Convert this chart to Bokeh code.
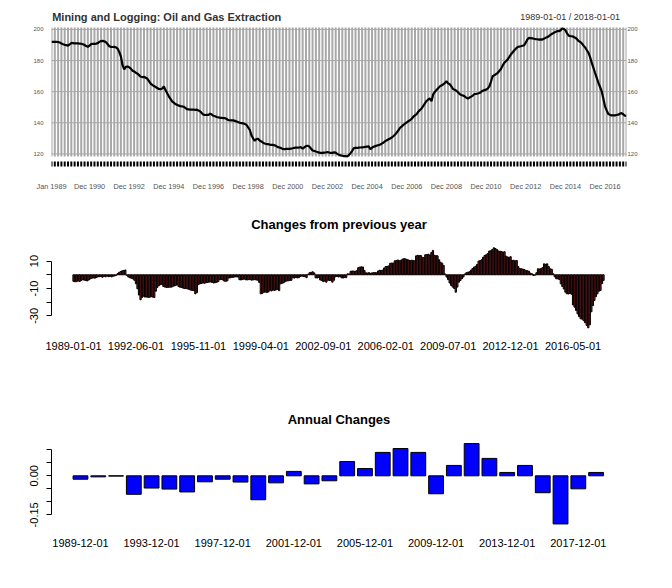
import math
from bokeh.plotting import figure
from bokeh.layouts import column
from bokeh.models import Range1d, FixedTicker, LinearAxis
from bokeh.core.properties import value
from bokeh.embed import file_html
from bokeh.resources import INLINE

FONT = "Liberation Sans"

# ---------------- data ----------------
# monthly index level, Jan 1989 .. Jan 2018
level = [
    192.0, 192.1, 192.0, 192.0, 191.9, 191.6, 191.0, 190.5, 190.1, 189.9, 189.6, 190.4,  # 1989
    191.3, 191.2, 191.0, 191.1, 191.0, 190.9, 190.8, 190.5, 190.0, 189.3, 188.8, 189.6,  # 1990
    190.6, 190.8, 190.7, 190.9, 191.2, 192.0, 192.5, 192.6, 192.4, 191.8, 190.5, 189.2,  # 1991
    188.8, 188.7, 188.8, 188.5, 187.7, 185.5, 182.6, 177.0, 174.3, 175.9, 176.2, 175.7,  # 1992
    174.8, 173.5, 173.0, 172.2, 171.6, 170.6, 169.6, 169.4, 169.5, 168.9, 168.3, 166.8,  # 1993
    165.2, 164.4, 163.6, 163.0, 162.3, 161.7, 161.6, 162.0, 163.4, 161.0, 159.0, 157.0,  # 1994
    155.4, 153.8, 152.9, 152.0, 151.6, 151.0, 150.7, 150.5, 150.3, 149.6, 148.8, 148.6,  # 1995
    148.4, 148.4, 148.5, 148.3, 148.4, 147.9, 147.3, 146.2, 145.2, 145.0, 145.1, 145.0,  # 1996
    145.8, 145.3, 144.5, 144.2, 143.7, 143.5, 143.2, 143.1, 143.0, 143.0, 142.4, 141.7,  # 1997
    141.6, 141.5, 141.5, 141.2, 140.8, 140.4, 140.0, 139.8, 139.6, 139.2, 138.7, 137.0,  # 1998
    135.5, 132.0, 130.0, 128.4, 129.5, 129.7, 128.6, 128.0, 127.2, 126.7, 126.3, 126.3,  # 1999
    126.0, 125.8, 125.8, 125.5, 125.0, 124.3, 124.1, 123.7, 123.2, 123.0, 123.2, 123.3,  # 2000
    123.2, 123.4, 123.6, 123.9, 124.1, 124.0, 124.1, 124.3, 123.3, 124.2, 125.0, 125.2,  # 2001
    124.7, 123.5, 122.2, 121.9, 121.5, 121.2, 120.8, 120.7, 120.6, 120.8, 120.9, 121.2,  # 2002
    120.9, 120.6, 120.7, 121.0, 120.8, 119.9, 119.4, 119.0, 118.8, 118.6, 118.5, 118.4,  # 2003
    119.2, 120.5, 122.0, 123.7, 123.8, 123.8, 124.0, 124.1, 124.2, 124.3, 124.5, 124.7,  # 2004
    124.8, 123.0, 124.0, 124.6, 125.0, 125.4, 125.6, 126.0, 126.7, 127.3, 128.2, 128.8,  # 2005
    129.4, 129.9, 130.6, 131.5, 132.5, 133.8, 135.2, 136.8, 137.7, 138.6, 139.4, 140.2,  # 2006
    141.0, 141.7, 142.6, 143.9, 144.8, 145.6, 147.1, 148.2, 149.2, 150.8, 152.5, 154.0,  # 2007
    155.0, 155.6, 153.9, 158.3, 159.8, 161.0, 162.2, 163.4, 164.0, 164.6, 165.5, 166.7,  # 2008
    165.3, 164.9, 163.4, 161.7, 161.2, 160.6, 159.6, 158.5, 157.9, 157.5, 157.0, 156.2,  # 2009
    155.5, 156.2, 156.8, 157.5, 158.5, 158.6, 158.8, 159.1, 159.8, 160.6, 161.0, 161.3,  # 2010
    162.0, 163.4, 166.5, 169.9, 170.5, 171.3, 172.0, 173.3, 174.6, 176.6, 178.5, 179.5,  # 2011
    180.6, 182.2, 183.9, 185.2, 186.5, 187.6, 188.6, 189.0, 189.2, 189.5, 189.7, 191.5,  # 2012
    193.5, 194.6, 194.4, 194.2, 194.0, 193.8, 193.7, 193.5, 193.6, 193.5, 194.0, 194.6,  # 2013
    195.0, 195.7, 196.5, 197.2, 197.8, 198.3, 198.9, 198.9, 199.3, 200.6, 200.3, 199.5,  # 2014
    197.5, 196.0, 195.7, 195.6, 195.2, 194.7, 193.8, 192.6, 192.0, 191.0, 189.6, 188.4,  # 2015
    186.6, 184.9, 182.0, 178.5, 175.3, 172.0, 168.8, 165.6, 163.0, 160.2, 155.5, 150.5,  # 2016
    148.0, 145.6, 145.1, 144.7, 144.7, 144.8, 145.0, 145.2, 145.8, 146.2, 145.5, 144.5,  # 2017
    144.5,                                                                                # 2018
]

# change from previous year, monthly
yoy = [
    -4.8, -5.1, -5.0, -4.6, -4.9, -4.2, -3.6, -3.9, -4.1, -4.5, -3.8, -3.0,  # 1989
    -2.6, -2.2, -2.5, -2.0, -1.6, -1.4, -1.3, -1.8, -1.2, -1.5, -1.0, -1.4,  # 1990
    -1.2, -1.5, -1.1, -0.8, -0.4, 0.9, 1.8, 2.4, 2.9, 3.2, 3.5, -0.4,        # 1991
    -1.6, -2.2, -2.5, -3.0, -4.0, -6.6, -10.2, -14.8, -18.2, -16.5, -15.6, -16.3,  # 1992
    -16.2, -16.5, -16.4, -16.0, -16.3, -16.6, -12.0, -9.2, -8.0, -7.2, -7.0, -8.5,  # 1993
    -9.0, -9.2, -9.3, -9.0, -9.1, -8.7, -8.2, -7.9, -7.4, -8.6, -9.1, -9.2,  # 1994
    -9.8, -10.0, -10.1, -10.3, -10.8, -11.2, -11.4, -11.6, -13.9, -13.0, -7.2, -6.6,  # 1995
    -6.4, -6.0, -6.2, -5.8, -5.6, -5.4, -5.2, -5.6, -6.0, -5.8, -5.5, -5.0,  # 1996
    -3.6, -3.4, -3.8, -4.6, -4.8, -4.4, -2.4, -2.2, -2.0, -1.8, -1.6, -1.5,  # 1997
    -1.7, -3.6, -3.8, -3.4, -3.2, -3.6, -3.8, -3.5, -3.6, -3.9, -3.7, -3.6,  # 1998
    -3.8, -4.0, -5.6, -13.9, -13.5, -12.8, -12.6, -13.0, -12.5, -11.4, -11.8, -11.2,  # 1999
    -11.5, -11.0, -10.6, -11.6, -6.6, -6.2, -5.8, -5.0, -4.6, -4.4, -4.2, -4.0,  # 2000
    -2.2, -2.4, -2.0, -2.3, -2.1, -1.2, -1.0, -1.3, -1.4, -2.1, 0.4, 1.5,    # 2001
    1.8, 2.2, 1.4, -2.2, -2.4, -2.0, -3.8, -4.2, -5.0, -4.6, -5.4, -4.0,     # 2002
    -4.2, -4.1, -5.4, -4.0, -1.5, -1.2, -1.6, -1.4, -2.2, -2.4, -2.0, -2.1,  # 2003
    0.7, 0.6, 2.5, 2.8, 2.7, 2.6, 3.0, 5.2, 5.6, 5.8, 5.7, 3.2,              # 2004
    1.5, 1.2, 1.6, 1.0, 1.4, 1.5, 1.7, 1.4, 2.8, 3.3, 3.2, 3.4,              # 2005
    5.0, 6.0, 6.2, 6.5, 8.4, 8.6, 8.5, 10.2, 10.5, 10.8, 10.2, 10.6,         # 2006
    11.4, 11.8, 11.6, 11.2, 10.8, 10.4, 10.6, 10.5, 10.2, 13.8, 14.2, 14.0,  # 2007
    14.1, 12.8, 12.6, 14.6, 14.8, 15.0, 14.5, 16.2, 17.8, 14.2, 14.0, 13.8,  # 2008
    11.0, 9.2, 8.5, 6.8, 0.6, -1.7, -3.6, -6.0, -7.8, -9.0, -10.0, -12.7,    # 2009
    -9.0, -5.4, -4.2, -2.9, -1.6, 0.6, 1.5, 1.9, 2.2, 3.4, 4.5, 5.6,         # 2010
    6.2, 7.6, 10.0, 10.4, 11.0, 12.8, 14.1, 14.6, 15.5, 17.3, 17.6, 18.4,    # 2011
    19.7, 19.2, 18.5, 17.4, 17.2, 17.0, 16.6, 16.8, 13.6, 13.0, 12.8, 13.2,  # 2012
    10.5, 10.6, 10.2, 10.4, 6.0, 4.6, 4.4, 4.2, 3.8, 3.2, 3.0, 2.6,          # 2013
    1.2, 0.8, -0.5, -0.3, 1.5, 4.4, 4.2, 4.6, 5.2, 8.0, 7.6, 8.0,            # 2014
    6.0, 4.4, 4.0, 0.7, -1.5, -2.9, -3.0, -3.5, -6.6, -8.5, -10.4, -12.7,    # 2015
    -13.9, -14.0, -13.6, -14.2, -22.0, -23.6, -26.0, -28.5, -30.5, -32.1, -32.4, -33.5,  # 2016
    -35.0, -37.0, -38.7, -36.5, -27.0, -22.5, -18.7, -16.0, -13.9, -12.0, -11.4, -6.5,   # 2017
    -4.1,                                                                    # 2018
]

# annual changes (fraction), one per year 1989..2018
annual_years = list(range(1989, 2019))
annual = [
    -0.013, -0.004, -0.001, -0.071, -0.047, -0.051, -0.062, -0.023, -0.013, -0.024,
    -0.092, -0.027, 0.017, -0.031, -0.019, 0.055, 0.028, 0.090, 0.105, 0.090,
    -0.069, 0.040, 0.124, 0.067, 0.013, 0.040, -0.065, -0.185, -0.050, 0.013,
]

MON = ["Jan", "Feb", "Mar", "Apr", "May", "Jun", "Jul", "Aug", "Sep", "Oct", "Nov", "Dec"]
n = len(level)
months = [(1989 + k // 12, k % 12 + 1) for k in range(n)]
idx = list(range(n))

top_ticks = [0] + list(range(23, n, 24))
top_labels = {t: f"{MON[months[t][1]-1]} {months[t][0]}" for t in top_ticks}
mid_ticks = list(range(0, n, 41))
mid_labels = {t: f"{months[t][0]}-{months[t][1]:02d}-01" for t in mid_ticks}
bot_ticks = list(range(0, len(annual_years), 4))
bot_labels = {t: f"{annual_years[t]}-12-01" for t in bot_ticks}


def base(w, h, xr, yr, bl, br, bt, bb):
    p = figure(width=w, height=h, x_range=xr, y_range=yr, output_backend="svg",
               toolbar_location=None, min_border_left=bl, min_border_right=br,
               min_border_top=bt, min_border_bottom=bb)
    p.outline_line_color = None
    p.xgrid.visible = False
    p.ygrid.visible = False
    p.background_fill_color = "white"
    p.border_fill_color = "white"
    return p


def add_text(p, x, y, txt, size, bold=False, align="left", color="black"):
    p.text(x=[x], y=[y], text=[txt], text_font=value(FONT), text_font_size=value(size),
           text_font_style="bold" if bold else "normal", text_color=color,
           text_align=align, text_baseline="middle")


# ---------------- top: level series ----------------
p1 = base(672, 200, Range1d(0, n - 1), Range1d(110.6, 218.6), 46, 46, 0, 32)
grid_x = list(range(0, n, 2))
p1.segment(x0=grid_x, x1=grid_x, y0=118.3, y1=201.3, line_color="#a8a8a8", line_width=2)
hl = [120, 140, 160, 180, 200]
p1.segment(x0=0, x1=n - 1, y0=hl, y1=hl, line_color="#a8a8a8", line_width=1)
p1.segment(x0=grid_x, x1=grid_x, y0=111.9, y1=115.1, line_color="black", line_width=2)
p1.line(idx, level, line_color="black", line_width=2.2)

xa = p1.xaxis[0]
xa.ticker = FixedTicker(ticks=top_ticks)
xa.major_label_overrides = top_labels
xa.axis_line_color = None
xa.major_tick_line_color = None
xa.minor_tick_line_color = None
xa.major_tick_out = 0
xa.major_label_standoff = 13
xa.major_label_text_font = FONT
xa.major_label_text_font_size = "7.3px"
xa.major_label_text_color = "#555555"

ya = p1.yaxis[0]
ya.ticker = FixedTicker(ticks=hl)
ya.axis_line_color = None
ya.major_tick_line_color = None
ya.minor_tick_line_color = None
ya.major_tick_out = 0
ya.major_label_standoff = 8
ya.major_label_text_font = FONT
ya.major_label_text_font_size = "6px"
ya.major_label_text_color = "#555555"
ra = LinearAxis(ticker=FixedTicker(ticks=hl), axis_line_color=None, major_tick_line_color=None,
                minor_tick_line_color=None, major_tick_out=0, major_label_standoff=1,
                major_label_text_font=FONT, major_label_text_font_size="6px",
                major_label_text_color="#555555")
p1.add_layout(ra, "right")

add_text(p1, 0.4, 207.9, "Mining and Logging: Oil and Gas Extraction", "11px", bold=True,
         color="#333333")
add_text(p1, 344, 207.9, "1989-01-01 / 2018-01-01", "9px", align="right", color="#333333")


def style_axes(p, yticks, ylabels, bounds, xticks, xlabels, xstand):
    ya = p.yaxis[0]
    ya.ticker = FixedTicker(ticks=yticks)
    ya.major_label_overrides = ylabels
    ya.bounds = bounds
    ya.axis_line_color = "black"
    ya.major_tick_line_color = "black"
    ya.minor_tick_line_color = None
    ya.major_tick_out = 5
    ya.major_tick_in = 0
    ya.major_label_orientation = "parallel"
    ya.major_label_standoff = 8
    ya.major_label_text_font = FONT
    ya.major_label_text_font_size = "11px"
    ya.major_label_text_color = "black"
    xa = p.xaxis[0]
    xa.ticker = FixedTicker(ticks=xticks)
    xa.major_label_overrides = xlabels
    xa.axis_line_color = None
    xa.major_tick_line_color = None
    xa.minor_tick_line_color = None
    xa.major_tick_out = 0
    xa.major_label_standoff = xstand
    xa.major_label_text_font = FONT
    xa.major_label_text_font_size = "11px"
    xa.major_label_text_color = "black"


# ---------------- middle: changes from previous year ----------------
MX0, MX1 = -14.47, 363.1
p2 = base(672, 185, Range1d(MX0, MX1), Range1d(-44.3, 54.2), 51, 26, 0, 50)
p2.vbar(x=idx, top=yoy, bottom=0, width=1 / 1.2, fill_color="#B22222",
        line_color="black", line_width=1)
style_axes(p2, [-30, -20, -10, 0, 10], {10: "10", 0: "", -10: "-10", -20: "", -30: "-30"},
           (-30, 10), mid_ticks, mid_labels, 6)
add_text(p2, (MX0 + MX1) / 2, 36.7, "Changes from previous year", "13px", bold=True,
         align="center")

# ---------------- bottom: annual changes ----------------
BX0, BX1 = -1.63, 30.71
bx = list(range(len(annual)))
p3 = base(672, 203, Range1d(BX0, BX1), Range1d(-0.191, 0.3473), 51, 26, 0, 63)
p3.vbar(x=bx, top=annual, bottom=0, width=1 / 1.2, fill_color="blue",
        line_color="black", line_width=1)
style_axes(p3, [-0.15, -0.1, -0.05, 0.0, 0.05, 0.1],
           {-0.15: "-0.15", -0.1: "", -0.05: "", 0.0: "0.00", 0.05: "", 0.1: ""},
           (-0.15, 0.10), bot_ticks, bot_labels, 13)
add_text(p3, (BX0 + BX1) / 2, 0.2165, "Annual Changes", "13px", bold=True, align="center")

layout = column(p1, p2, p3, spacing=0)
open("out.html", "w").write(file_html(layout, INLINE))
